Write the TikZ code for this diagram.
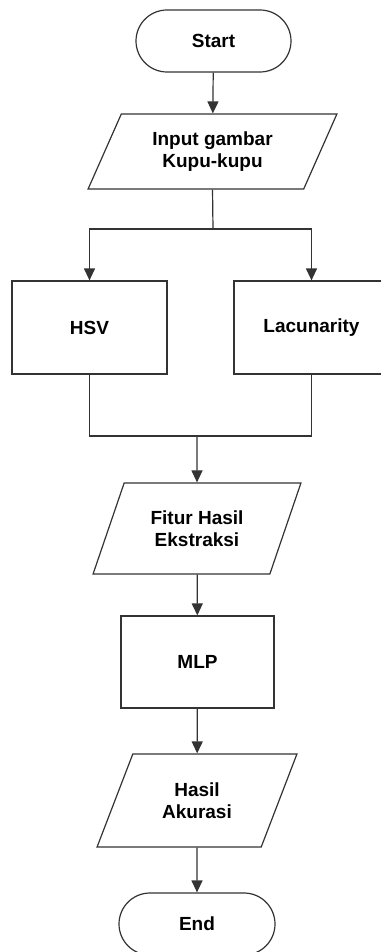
\documentclass[tikz,border=0pt]{standalone}
\usepackage{fontspec}
\setmainfont{Liberation Sans}
\usetikzlibrary{shapes.geometric,arrows.meta}

\tikzset{
  flowline/.style={line width=1.2pt, draw=black!80},
  terminal/.style={flowline, rectangle, rounded corners=31pt, minimum width=155pt, minimum height=62pt},
  process/.style={flowline, rectangle, minimum width=155pt, minimum height=93pt},
  io/.style={flowline, trapezium, trapezium left angle=63.5, trapezium right angle=116.5,
    trapezium stretches=true, align=center}
}

\begin{document}
\begin{tikzpicture}[x=1pt, y=-1pt, >={Triangle[width=11pt,length=12pt]},
    font=\fontsize{19}{22}\selectfont\bfseries]
	\useasboundingbox (0,0) rectangle (380,952);
	
	% Start and input
	\node[terminal] (start) at (213.5,41) {Start};
	\node[io, minimum width=249pt, minimum height=75pt] (inp) at (212.5,151.5) {Input gambar\\Kupu-kupu};
	
	% Feature extraction
	\node[process] (hsv) at (89.5,327.5) {HSV};
	\node[process] (lac) at (311.5,327.5) {Lacunarity};
	\coordinate (split) at (213,229);
	\coordinate (merge) at (197,436);
	
	% Classification
	\node[io, minimum width=208pt, minimum height=91pt] (fitur) at (197,528.5) {Fitur Hasil\\Ekstraksi};
	\node[process, minimum width=153pt, minimum height=92pt] (mlp) at (197.5,662) {MLP};
	\node[io, minimum width=200pt, minimum height=93pt] (hasil) at (197,800.5) {Hasil\\Akurasi};
	\node[terminal, minimum width=156pt] (end) at (197,924) {End};
	
	% Connectors
	\draw[flowline, ->] (start) -- (inp);
	\draw[flowline] (inp.south) -- (split);
	\draw[flowline, ->] (split) -| (hsv.north);
	\draw[flowline, ->] (split) -| (lac.north);
	\draw[flowline] (hsv.south) |- (merge) -| (lac.south);
	\draw[flowline, ->] (merge) -- (fitur.north);
	\draw[flowline, ->] (fitur) -- (mlp);
	\draw[flowline, ->] (mlp) -- (hasil);
	\draw[flowline, ->] (hasil) -- (end);
\end{tikzpicture}
\end{document}
